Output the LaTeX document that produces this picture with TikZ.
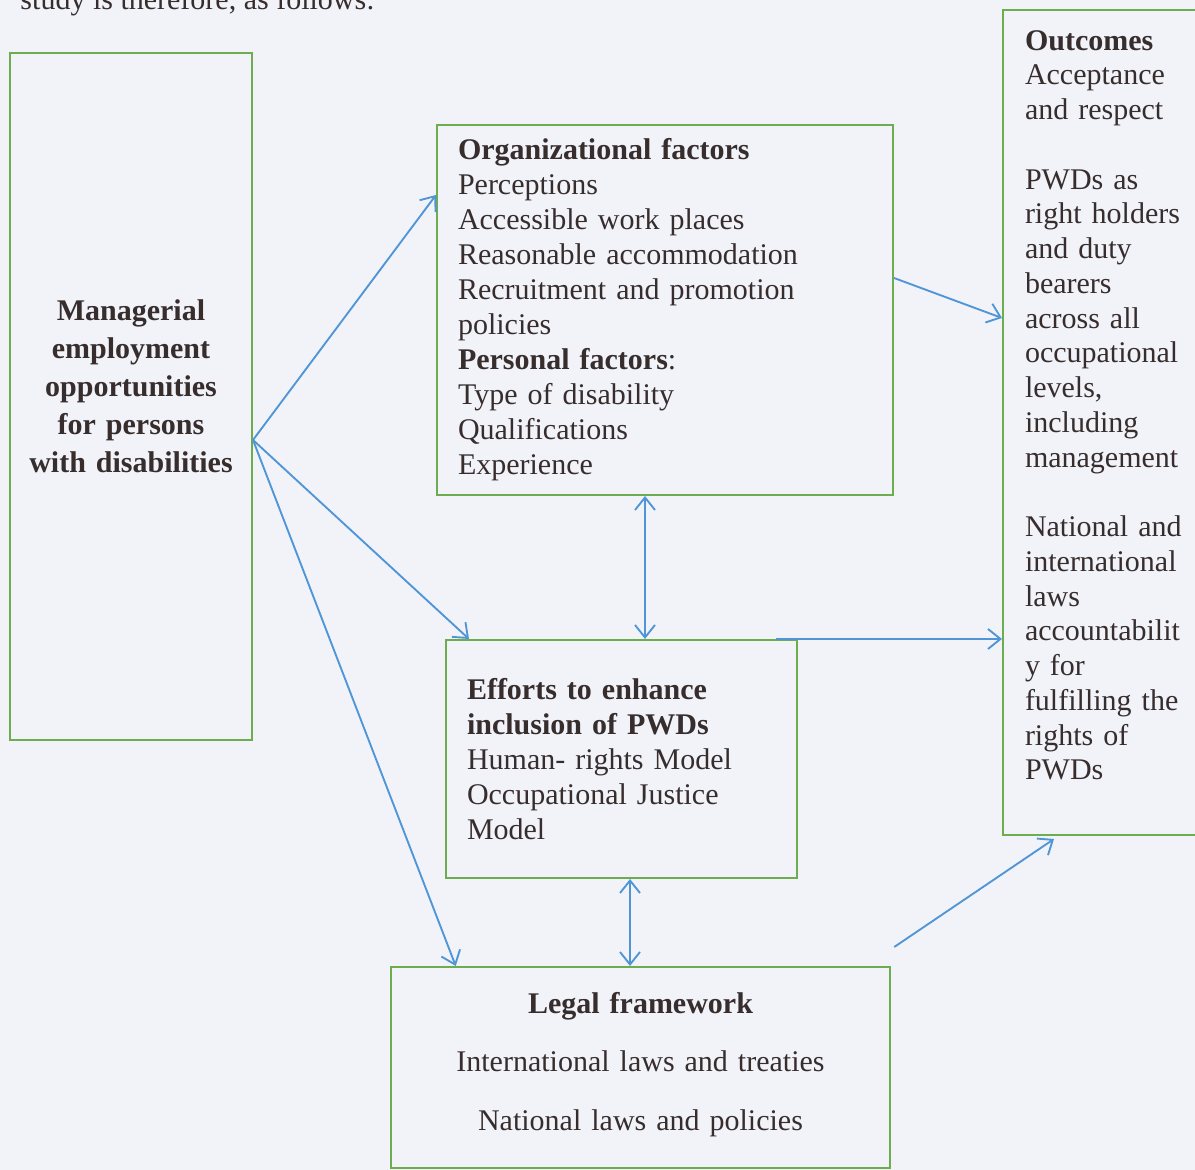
\documentclass[tikz,border=0pt]{standalone}
\usepackage{fontspec}
\setmainfont{Liberation Serif}
\usetikzlibrary{arrows.meta,positioning}
\definecolor{boxgreen}{RGB}{110,172,80}
\definecolor{arrowblue}{RGB}{80,150,214}
\definecolor{paper}{RGB}{241,243,249}
\definecolor{ink}{RGB}{55,45,45}
\tikzset{
	x=0.4pt,
	y=-0.4pt,
	>={Straight Barb[length=5pt,width=8pt]},
	box/.style={
		draw=boxgreen,
		line width=0.8pt,
		text=ink,
		font=\fontsize{12}{14}\selectfont,
		inner xsep=8.4pt,
		align=left
	},
	link/.style={
		->,
		draw=arrowblue,
		line width=0.75pt
	}
}
\begin{document}
\begin{tikzpicture}
	\fill [paper] (0,0) rectangle (1195,1170);
	\clip (0,0) rectangle (1195,1170);
	\node [anchor=base west, text=ink, font=\fontsize{12}{14}\selectfont, inner sep=0pt] (intro) at (20,10) {study is therefore, as follows:};

	\node [box, align=center, font=\fontsize{12}{15.2}\selectfont\bfseries, text width=88.8pt, inner xsep=4pt, minimum height=274.8pt] (mgr) at (131,396.5)
	{Managerial\\employment\\opportunities\\for persons\\with disabilities\\[-7.2pt]\mbox{}};
	\node [box, text width=165.6pt, minimum height=148pt] (org) at (665,310)
	{\textbf{Organizational factors}\\Perceptions\\Accessible work places\\Reasonable accommodation\\Recruitment and promotion\\policies\\\textbf{Personal factors}:\\Type of disability\\Qualifications\\Experience};
	\node [box, text width=67.2pt, inner xsep=8.8pt, font=\fontsize{12}{13.9}\selectfont, minimum height=330pt] (outc) at (1109,422.5)
	{\textbf{Outcomes}\\Acceptance\\and respect\\\mbox{}\\PWDs as\\right holders\\and duty\\bearers\\across all\\occupational\\levels,\\including\\management\\\mbox{}\\National and\\international\\laws\\accountabilit\\y for\\fulfilling the\\rights of\\PWDs\\\mbox{}};
	\node [box, text width=123.6pt, minimum height=95.2pt] (eff) at (621.5,759)
	{\textbf{Efforts to enhance}\\\textbf{inclusion of PWDs}\\Human- rights Model\\Occupational Justice\\Model};
	\node [box, align=center, text width=183pt, minimum height=80.4pt] (legal) at (640.5,1067.5)
	{\textbf{Legal framework}\\[9.2pt]International laws and treaties\\[9.6pt]National laws and policies\\[-9.2pt]\mbox{}};

	\coordinate (hub) at ([yshift=-17.4pt]mgr.east);
	\coordinate (lgout) at ([xshift=1.2pt,yshift=7.6pt]legal.north east);

	\draw [link] (hub) -- ([yshift=46pt]org.west);
	\draw [link] (hub) -- ([xshift=9.6pt]eff.north west);
	\draw [link] (hub) -- ([xshift=26.4pt]legal.north west);
	\draw [link] ([yshift=12.8pt]org.east) -- ([yshift=41.8pt]outc.west);
	\draw [link, <->] ([xshift=-8pt]org.south) -- ([xshift=-8pt]org.south |- eff.north);
	\draw [link] ([xshift=-8.8pt]eff.north east) -- (outc.west |- eff.north east);
	\draw [link, <->] ([xshift=3.4pt]eff.south) -- ([xshift=3.4pt]eff.south |- legal.north);
	\draw [link] (lgout) -- ([xshift=20.8pt,yshift=-1.2pt]outc.south west);
\end{tikzpicture}
\end{document}
